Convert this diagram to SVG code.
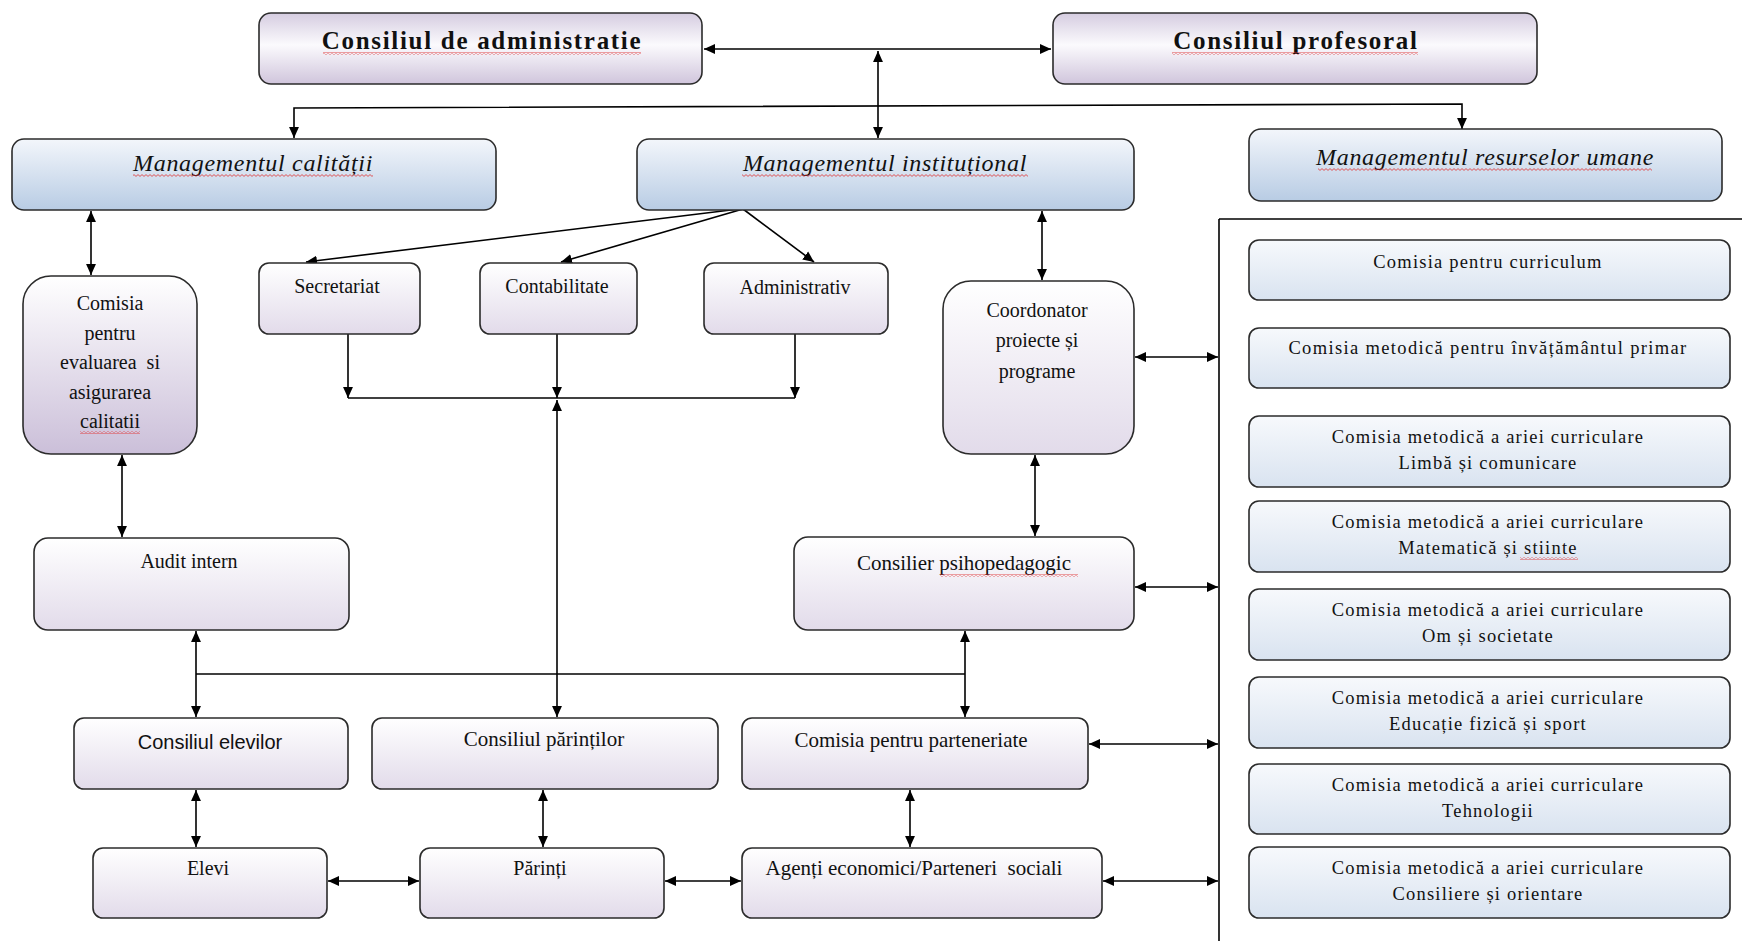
<svg xmlns="http://www.w3.org/2000/svg" width="1742" height="941" viewBox="0 0 1742 941">
<defs>
<linearGradient id="gTop" x1="0" y1="0" x2="0" y2="1">
<stop offset="0" stop-color="#d5cce0"/><stop offset="0.45" stop-color="#fbfafd"/><stop offset="1" stop-color="#d0c5dc"/>
</linearGradient>
<linearGradient id="gLav" x1="0" y1="0" x2="0" y2="1">
<stop offset="0" stop-color="#ffffff"/><stop offset="1" stop-color="#e2dbea"/>
</linearGradient>
<linearGradient id="gLavDeep" x1="0" y1="0" x2="0" y2="1">
<stop offset="0" stop-color="#ffffff"/><stop offset="1" stop-color="#cbbfd9"/>
</linearGradient>
<linearGradient id="gBlue" x1="0" y1="0" x2="0" y2="1">
<stop offset="0" stop-color="#f3f6fb"/><stop offset="1" stop-color="#b8cce4"/>
</linearGradient>
<linearGradient id="gLBlue" x1="0" y1="0" x2="0" y2="1">
<stop offset="0" stop-color="#f7f9fc"/><stop offset="1" stop-color="#d9e3f0"/>
</linearGradient>
<pattern id="wavy" patternUnits="userSpaceOnUse" width="4" height="3">
<path d="M0 2.4 L2 0.6 L4 2.4" fill="none" stroke="#e03030" stroke-width="0.8"/>
</pattern>
<marker id="ah" viewBox="0 0 10 10" refX="10" refY="5" markerWidth="11" markerHeight="11" markerUnits="userSpaceOnUse" orient="auto-start-reverse">
<path d="M0 0.5 L10 5 L0 9.5 Z" fill="#000"/>
</marker>
<style>
.box{stroke:#2b2b2b;stroke-width:1.6}
.top{fill:url(#gTop)}
.lav{fill:url(#gLav)}
.lavd{fill:url(#gLavDeep)}
.blue{fill:url(#gBlue)}
.lb{fill:url(#gLBlue)}
.c{fill:none;stroke:#000;stroke-width:1.6}
.a2{marker-start:url(#ah);marker-end:url(#ah)}
.a1{marker-end:url(#ah)}
text{font-family:"Liberation Serif","Times New Roman",serif;fill:#111;text-anchor:middle}
.tb{font-size:25px;font-weight:bold;letter-spacing:1.7px}
.ti{font-size:24px;font-style:italic;letter-spacing:0.7px}
.t20{font-size:20px}
.t21{font-size:21px}
.ts{font-family:"Liberation Sans",Arial,sans-serif;font-size:20px}
.tr{font-size:18.5px;letter-spacing:1.2px}
.w{fill:url(#wavy)}
</style>
</defs>

<g id="connectors">
<line class="c a2" x1="704" y1="49" x2="1051" y2="49"/>
<line class="c a2" x1="878" y1="51" x2="878" y2="138"/>
<path class="c a2" d="M294 138 L294 108 L1462 104 L1462 129"/>
<line class="c a2" x1="91" y1="211" x2="91" y2="275"/>
<line class="c a2" x1="122" y1="455" x2="122" y2="537"/>
<line class="c a1" x1="739" y1="209" x2="306" y2="262"/>
<line class="c a1" x1="743" y1="209" x2="561" y2="262"/>
<line class="c a1" x1="743" y1="209" x2="814" y2="262"/>
<line class="c a1" x1="348" y1="334" x2="348" y2="398"/>
<line class="c a1" x1="557" y1="334" x2="557" y2="398"/>
<line class="c a1" x1="795" y1="334" x2="795" y2="398"/>
<line class="c" x1="348" y1="398" x2="795" y2="398"/>
<line class="c a2" x1="557" y1="400" x2="557" y2="717"/>
<line class="c a2" x1="1042" y1="211" x2="1042" y2="280"/>
<line class="c a2" x1="1035" y1="455" x2="1035" y2="536"/>
<line class="c a2" x1="1135" y1="357" x2="1218" y2="357"/>
<line class="c a2" x1="1135" y1="587" x2="1218" y2="587"/>
<line class="c a2" x1="1089" y1="744" x2="1218" y2="744"/>
<line class="c a2" x1="1103" y1="881" x2="1218" y2="881"/>
<line class="c" x1="1219" y1="219" x2="1219" y2="941"/>
<line class="c" x1="1219" y1="219" x2="1742" y2="219"/>
<line class="c" x1="196" y1="674" x2="965" y2="674"/>
<line class="c a2" x1="196" y1="631" x2="196" y2="717"/>
<line class="c a2" x1="965" y1="631" x2="965" y2="717"/>
<line class="c a2" x1="196" y1="790" x2="196" y2="847"/>
<line class="c a2" x1="543" y1="790" x2="543" y2="847"/>
<line class="c a2" x1="910" y1="790" x2="910" y2="847"/>
<line class="c a2" x1="328" y1="881" x2="419" y2="881"/>
<line class="c a2" x1="665" y1="881" x2="741" y2="881"/>
</g>

<g id="n-consiliul-administratie">
<rect class="box top" x="259" y="13" width="443" height="71" rx="12"/>
<text class="tb" x="482" y="49">Consiliul de administratie</text>
<rect class="w" x="323" y="52" width="318" height="3"/>
</g>
<g id="n-consiliul-profesoral">
<rect class="box top" x="1053" y="13" width="484" height="71" rx="12"/>
<text class="tb" x="1296" y="49">Consiliul profesoral</text>
<rect class="w" x="1172" y="52" width="246" height="3"/>
</g>
<g id="n-management-calitatii">
<rect class="box blue" x="12" y="139" width="484" height="71" rx="12"/>
<text class="ti" x="253" y="171">Managementul calității</text>
<rect class="w" x="133" y="174" width="240" height="3"/>
</g>
<g id="n-management-institutional">
<rect class="box blue" x="637" y="139" width="497" height="71" rx="12"/>
<text class="ti" x="885" y="171">Managementul instituțional</text>
<rect class="w" x="742" y="174" width="286" height="3"/>
</g>
<g id="n-management-resurse">
<rect class="box blue" x="1249" y="129" width="473" height="72" rx="12"/>
<text class="ti" x="1485" y="165">Managementul resurselor umane</text>
<rect class="w" x="1318" y="168" width="334" height="3"/>
</g>
<g id="n-comisia-evaluare">
<rect class="box lavd" x="23" y="276" width="174" height="178" rx="28"/>
<text class="t20" x="110" y="310">Comisia</text>
<text class="t20" x="110" y="340">pentru</text>
<text class="t20" x="110" y="369" style="white-space:pre">evaluarea  si</text>
<text class="t20" x="110" y="399">asigurarea</text>
<text class="t20" x="110" y="428">calitatii</text>
<rect class="w" x="80" y="431" width="60" height="3"/>
</g>
<g id="n-secretariat">
<rect class="box lav" x="259" y="263" width="161" height="71" rx="10"/>
<text class="t20" x="337" y="293">Secretariat</text>
</g>
<g id="n-contabilitate">
<rect class="box lav" x="480" y="263" width="157" height="71" rx="10"/>
<text class="t20" x="557" y="293">Contabilitate</text>
</g>
<g id="n-administrativ">
<rect class="box lav" x="704" y="263" width="184" height="71" rx="10"/>
<text class="t20" x="795" y="294">Administrativ</text>
</g>
<g id="n-coordonator">
<rect class="box lav" x="943" y="281" width="191" height="173" rx="28"/>
<text class="t20" x="1037" y="317">Coordonator</text>
<text class="t20" x="1037" y="347">proiecte și</text>
<text class="t20" x="1037" y="378">programe</text>
</g>
<g id="n-audit-intern">
<rect class="box lav" x="34" y="538" width="315" height="92" rx="14"/>
<text class="t20" x="189" y="568">Audit intern</text>
</g>
<g id="n-consilier">
<rect class="box lav" x="794" y="537" width="340" height="93" rx="14"/>
<text class="t21" x="964" y="570">Consilier psihopedagogic</text>
<rect class="w" x="940" y="574" width="138" height="3"/>
</g>
<g id="n-consiliul-elevilor">
<rect class="box lav" x="74" y="718" width="274" height="71" rx="10"/>
<text class="ts" x="210" y="749">Consiliul elevilor</text>
</g>
<g id="n-consiliul-parintilor">
<rect class="box lav" x="372" y="718" width="346" height="71" rx="10"/>
<text class="t21" x="544" y="746">Consiliul părinților</text>
</g>
<g id="n-comisia-parteneriate">
<rect class="box lav" x="742" y="718" width="346" height="71" rx="10"/>
<text class="t21" x="911" y="747">Comisia pentru parteneriate</text>
</g>
<g id="n-elevi">
<rect class="box lav" x="93" y="848" width="234" height="70" rx="10"/>
<text class="t20" x="208" y="875">Elevi</text>
</g>
<g id="n-parinti">
<rect class="box lav" x="420" y="848" width="244" height="70" rx="10"/>
<text class="t20" x="540" y="875">Părinți</text>
</g>
<g id="n-agenti">
<rect class="box lav" x="742" y="848" width="360" height="70" rx="10"/>
<text class="t21" x="914" y="875" style="white-space:pre">Agenți economici/Parteneri  sociali</text>
</g>

<g id="n-curriculum">
<rect class="box lb" x="1249" y="240" width="481" height="60" rx="10"/>
<text class="tr" x="1488" y="268">Comisia pentru curriculum</text>
</g>
<g id="n-primar">
<rect class="box lb" x="1249" y="328" width="481" height="60" rx="10"/>
<text class="tr" x="1488" y="354" style="letter-spacing:1.35px">Comisia metodică pentru învățământul primar</text>
</g>
<g id="n-limba">
<rect class="box lb" x="1249" y="416" width="481" height="71" rx="10"/>
<text class="tr" x="1488" y="443">Comisia metodică a ariei curriculare</text>
<text class="tr" x="1488" y="469">Limbă și comunicare</text>
</g>
<g id="n-matematica">
<rect class="box lb" x="1249" y="501" width="481" height="71" rx="10"/>
<text class="tr" x="1488" y="528">Comisia metodică a ariei curriculare</text>
<text class="tr" x="1488" y="554">Matematică și stiinte</text>
<rect class="w" x="1520" y="557" width="58" height="3"/>
</g>
<g id="n-om">
<rect class="box lb" x="1249" y="589" width="481" height="71" rx="10"/>
<text class="tr" x="1488" y="616">Comisia metodică a ariei curriculare</text>
<text class="tr" x="1488" y="642">Om și societate</text>
</g>
<g id="n-educatie">
<rect class="box lb" x="1249" y="677" width="481" height="71" rx="10"/>
<text class="tr" x="1488" y="704">Comisia metodică a ariei curriculare</text>
<text class="tr" x="1488" y="730">Educație fizică și sport</text>
</g>
<g id="n-tehnologii">
<rect class="box lb" x="1249" y="764" width="481" height="70" rx="10"/>
<text class="tr" x="1488" y="791">Comisia metodică a ariei curriculare</text>
<text class="tr" x="1488" y="817">Tehnologii</text>
</g>
<g id="n-consiliere">
<rect class="box lb" x="1249" y="847" width="481" height="71" rx="10"/>
<text class="tr" x="1488" y="874">Comisia metodică a ariei curriculare</text>
<text class="tr" x="1488" y="900">Consiliere și orientare</text>
</g>
</svg>
